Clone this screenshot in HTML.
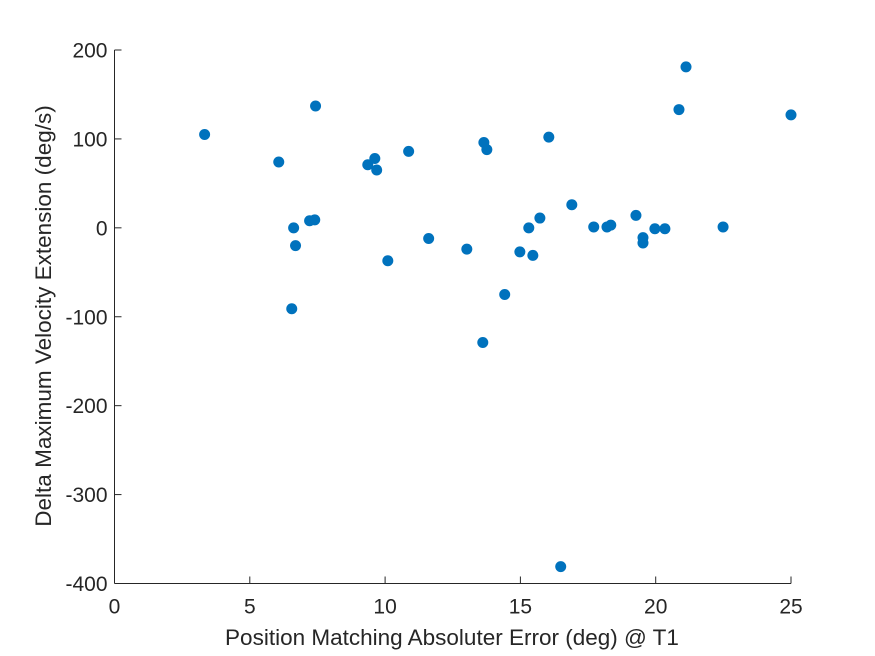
<!DOCTYPE html>
<html><head><meta charset="utf-8"><style>
body{margin:0;background:#fff;}
svg{display:block;font-family:"Liberation Sans",Arial,sans-serif;}
</style></head><body>
<svg id="chart" width="875" height="656">
<g id="axes"></g>
<g id="points"></g>
<text x="452" y="645" text-anchor="middle" font-size="22.5" fill="#262626">Position Matching Absoluter Error (deg) @ T1</text>
<text transform="translate(51,316) rotate(-90)" text-anchor="middle" font-size="22.5" fill="#262626">Delta Maximum Velocity Extension (deg/s)</text>
</svg>
<script>
const xValues=[3.33,6.07,7.43,6.62,6.69,6.55,7.21,7.40,9.36,9.62,9.69,10.87,10.10,11.61,13.02,13.65,13.76,13.61,14.42,14.98,15.31,15.46,15.72,16.05,16.49,16.90,17.71,18.20,18.34,19.27,19.53,19.53,19.97,20.34,20.86,21.12,22.49,25.0];
const yValues=[105,74,137,0,-20,-91,8,9,71,78,65,86,-37,-12,-24,96,88,-129,-75,-27,0,-31,11,102,-381,26,1,1,3,14,-11,-17,-1,-1,133,181,1,127];
const xTicks=[0,5,10,15,20,25];
const yTicks=[-400,-300,-200,-100,0,100,200];
const L=114.5,R=791,T=50,B=583.5;
const sx=v=>L+(v-0)/(25-0)*(R-L);
const sy=v=>B-(v+400)/600*(B-T);
const NS="http://www.w3.org/2000/svg";
const ax=document.getElementById('axes');
function mk(tag,attrs,parent){const e=document.createElementNS(NS,tag);for(const k in attrs)e.setAttribute(k,attrs[k]);parent.appendChild(e);return e;}
let l=mk('line',{x1:L,y1:T,x2:L,y2:B,stroke:'#262626','stroke-width':1},ax);


l=mk('line',{x1:L,y1:B,x2:R,y2:B,stroke:'#262626','stroke-width':1},ax);


xTicks.forEach(t=>{
 const x=sx(t);
 const tk=mk('line',{x1:x,y1:B,x2:x,y2:B-7,stroke:'#262626'},ax);
 
 
 const tx=mk('text',{x:x,y:B+30,'text-anchor':'middle','font-size':21,fill:'#262626'},ax);
 tx.textContent=t;
 
 
});
yTicks.forEach(t=>{
 const y=sy(t);
 const tk=mk('line',{x1:L,y1:y,x2:L+7,y2:y,stroke:'#262626'},ax);
 
 
 const tx=mk('text',{x:L-7,y:y+7.5,'text-anchor':'end','font-size':21,fill:'#262626'},ax);
 tx.textContent=t;
 
 
});
const pg=document.getElementById('points');
xValues.forEach((v,i)=>{
 const c=mk('circle',{cx:sx(v),cy:sy(yValues[i]),r:5.5,fill:'#0072BD'},pg);
 
 
});
</script>
</body></html>
